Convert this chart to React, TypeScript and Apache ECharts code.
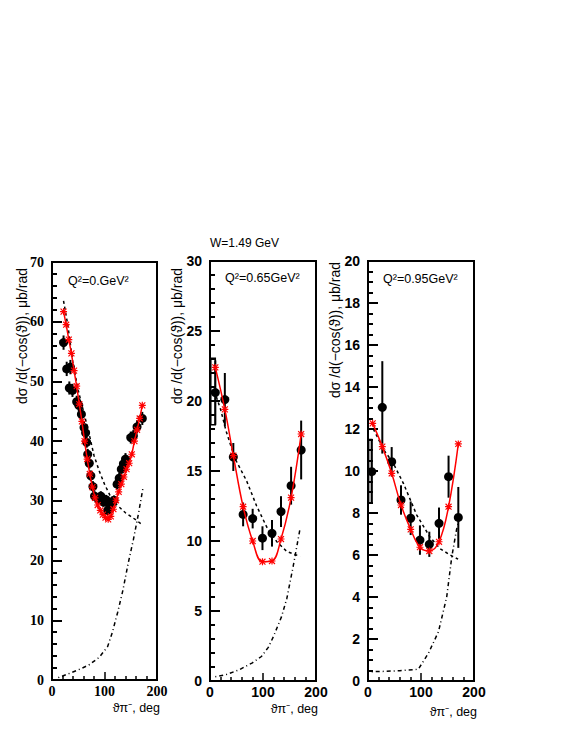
import React, { useEffect, useRef } from "react";
import * as echarts from "echarts";

// ---------- data ----------
// Panel titles / labels
const panelLabels = ["Q²=0.GeV²", "Q²=0.65GeV²", "Q²=0.95GeV²"];
const topTitle = "W=1.49 GeV";
const yTitle = "dσ /d(−cos(ϑ)), μb/rad";
const xTitle = "ϑπ⁻, deg";
const xTicks = [0, 100, 200];
const yMax = [70, 30, 20];
const yStep = [10, 5, 2];
const yMinorSplit = [5, 5, 4];

// measured points: [theta, value, error]
const p1Points = [
  [22, 56.5, 1.2], [28, 52.1, 1.2], [35, 52.4, 1.2], [33, 48.9, 1.1], [39, 48.5, 1.1],
  [47, 46.6, 1.0], [51, 46.0, 1.0], [56, 44.5, 1.0], [61, 42.3, 1.0], [64, 41.4, 1.0],
  [66, 39.8, 0.9], [68, 37.8, 0.9], [71, 36.3, 0.9], [74, 34.2, 0.9], [78, 32.4, 0.9],
  [81, 30.8, 0.8], [88, 30.3, 0.8], [93, 30.8, 0.8], [98, 29.8, 0.8], [103, 30.2, 0.8],
  [106, 28.4, 0.8], [110, 29.0, 0.8], [114, 29.6, 0.8], [118, 30.1, 0.8], [124, 32.8, 0.9],
  [128, 33.8, 0.9], [132, 35.3, 0.9], [136, 36.2, 0.9], [140, 37.0, 1.0], [150, 40.6, 1.0],
  [155, 40.9, 1.0], [162, 42.4, 1.1], [172, 43.8, 1.1],
];
const p2Points = [
  [10, 20.6, 2.3], [28, 20.1, 1.9], [44, 16.0, 1.0], [62.5, 11.9, 0.85], [80.5, 11.6, 0.7],
  [99, 10.2, 0.85], [117, 10.55, 0.95], [134, 12.1, 1.1], [153, 13.95, 1.35], [172, 16.5, 2.1],
];
const p3Points = [
  [7, 9.97, 1.5], [27, 13.03, 2.2], [44.7, 10.44, 0.7], [62.3, 8.62, 0.7], [80.5, 7.75, 0.8],
  [98, 6.71, 0.7], [115.7, 6.51, 0.6], [134, 7.51, 0.75], [152, 9.73, 1.0], [170.4, 7.79, 1.45],
];

// systematic boxes at the first point: [thetaFrom, thetaTo, low, high]
const p2Box = [1.5, 10, 18.3, 23.05];
const p3Box = [1.2, 7, 8.46, 11.5];

// red model curves (with asterisk markers)
const p1Red = [
  [22, 61.7], [27, 59.5], [32, 57.0], [37, 54.7], [42, 51.8], [47, 49.2], [52, 46.2],
  [57, 43.3], [62, 40.0], [67, 37.0], [72, 34.5], [77, 32.3], [82, 30.5], [87, 29.3],
  [92, 28.4], [97, 27.7], [102, 27.2], [107, 26.9], [112, 27.4], [117, 28.6], [122, 30.1],
  [127, 31.5], [132, 32.8], [137, 34.0], [142, 35.3], [147, 36.3], [152, 37.8], [157, 40.0],
  [162, 41.9], [167, 43.8], [172, 46.0],
];
const p2Red = [
  [10, 22.4], [28, 19.4], [44, 16.1], [62.5, 12.45], [80.5, 10.0], [99, 8.52],
  [117, 8.57], [134, 10.14], [153, 13.1], [172, 17.64],
];
const p3Red = [
  [8.8, 12.27], [27, 11.16], [44.7, 9.89], [62.3, 8.38], [80.5, 7.22], [98, 6.37],
  [115.7, 6.19], [134, 6.63], [152, 8.3], [170.4, 11.29],
];

// dashed curves
const p1Dash = [
  [22, 63.5], [30, 59.5], [40, 53.0], [50, 48.5], [60, 45.0], [70, 41.5], [80, 37.6],
  [90, 35.0], [100, 32.8], [110, 31.0], [120, 29.6], [130, 28.8], [140, 28.0], [150, 27.4],
  [160, 26.8], [172, 26.0],
];
const p2Dash = [
  [12, 20.3], [20, 19.4], [30, 17.9], [47, 15.9], [69, 14.3], [88, 12.5], [107, 11.0],
  [126, 9.95], [145, 9.25], [170, 8.9],
];
const p3Dash = [
  [10, 12.0], [20, 11.5], [30, 11.0], [47, 10.4], [67, 9.4], [92, 7.9], [117, 6.85],
  [136, 6.3], [155, 6.0], [170, 5.8],
];

// dash-dotted curves
const p1DashDot = [
  [12, 0.4], [30, 1.0], [50, 1.7], [70, 2.5], [90, 3.8], [106, 5.6], [115, 8.0],
  [125, 11.3], [135, 15.0], [145, 19.5], [155, 23.5], [165, 28.0], [173, 32.0],
];
const p2DashDot = [
  [10, 0.3], [30, 0.45], [55, 0.8], [80, 1.3], [97, 1.75], [110, 2.4], [120, 3.2],
  [135, 4.6], [145, 5.9], [157, 8.2], [170, 10.9],
];
const p3DashDot = [
  [7, 0.44], [30, 0.46], [60, 0.49], [95, 0.56], [114, 1.32], [133, 2.35], [148.5, 4.0],
  [158, 5.9], [167, 7.2], [172, 7.7],
];

// ---------- styling helpers ----------
const SERIF = '"Liberation Serif", "DejaVu Serif", serif';
const SANS = '"Liberation Sans", Arial, Helvetica, sans-serif';

const grids = [
  { left: 52, top: 262, width: 105, height: 418 },
  { left: 210, top: 261, width: 106, height: 420 },
  { left: 368, top: 261, width: 106, height: 420 },
];
const labelFonts = [SERIF, SANS, SANS];

const asterisk =
  "path://M-0.5,-3 L0.5,-3 L0.5,3 L-0.5,3 Z M-3,-0.5 L3,-0.5 L3,0.5 L-3,0.5 Z " +
  "M-2.9,-2.2 L-2.2,-2.9 L2.9,2.2 L2.2,2.9 Z M2.2,-2.9 L2.9,-2.2 L-2.2,2.9 L-2.9,2.2 Z";

function pointsSeries(idx: number, pts: number[][]) {
  return {
    type: "custom",
    xAxisIndex: idx,
    yAxisIndex: idx,
    z: 5,
    data: pts.map((p) => [p[0], p[1], p[1] - p[2], p[1] + p[2]]),
    encode: { x: 0, y: 1 },
    renderItem: (params: any, api: any) => {
      const x = api.value(0);
      const c = api.coord([x, api.value(1)]);
      const lo = api.coord([x, api.value(2)]);
      const hi = api.coord([x, api.value(3)]);
      return {
        type: "group",
        children: [
          {
            type: "line",
            shape: { x1: c[0], y1: lo[1], x2: c[0], y2: hi[1] },
            style: { stroke: "#000", lineWidth: 2 },
          },
          {
            type: "circle",
            shape: { cx: c[0], cy: c[1], r: 4.5 },
            style: { fill: "#000" },
          },
        ],
      };
    },
  };
}

function boxSeries(idx: number, box: number[]) {
  return {
    type: "custom",
    xAxisIndex: idx,
    yAxisIndex: idx,
    z: 4,
    data: [box],
    renderItem: (params: any, api: any) => {
      const a = api.coord([api.value(0), api.value(3)]);
      const b = api.coord([api.value(1), api.value(2)]);
      return {
        type: "rect",
        shape: { x: a[0], y: a[1], width: b[0] - a[0], height: b[1] - a[1] },
        style: { fill: "none", stroke: "#000", lineWidth: 1.5 },
      };
    },
  };
}

function lineSeries(idx: number, data: number[][], kind: "red" | "dash" | "dashdot", smooth = false) {
  if (kind === "red") {
    return {
      type: "line",
      xAxisIndex: idx,
      yAxisIndex: idx,
      data,
      smooth: smooth ? 0.4 : false,
      symbol: asterisk,
      symbolSize: 7,
      showSymbol: true,
      itemStyle: { color: "#ff0000" },
      lineStyle: { color: "#ff0000", width: 1.5 },
      z: 6,
    };
  }
  return {
    type: "line",
    xAxisIndex: idx,
    yAxisIndex: idx,
    data,
    smooth: false,
    showSymbol: false,
    symbol: "none",
    lineStyle: {
      color: "#000",
      width: 1.5,
      type: kind === "dash" ? [3, 3] : [1, 3, 4, 3],
    },
    z: 3,
  };
}

function makeX(i: number) {
  return {
    type: "value",
    gridIndex: i,
    min: xTicks[0],
    max: xTicks[xTicks.length - 1],
    interval: xTicks[1] - xTicks[0],
    axisLine: { show: true, onZero: false, lineStyle: { color: "#000", width: 2 } },
    axisTick: { show: true, inside: true, length: 8, lineStyle: { color: "#000", width: 1.5 } },
    minorTick: { show: true, splitNumber: 5, length: 4, lineStyle: { color: "#000", width: 1.5 } },
    splitLine: { show: false },
    axisLabel: {
      color: "#000",
      fontFamily: labelFonts[i],
      fontWeight: "bold",
      fontSize: 14,
      margin: 4,
    },
  };
}

function makeY(i: number) {
  return {
    type: "value",
    gridIndex: i,
    min: 0,
    max: yMax[i],
    interval: yStep[i],
    axisLine: { show: true, onZero: false, lineStyle: { color: "#000", width: 2 } },
    axisTick: { show: true, inside: true, length: 10, lineStyle: { color: "#000", width: 2 } },
    minorTick: {
      show: true,
      splitNumber: yMinorSplit[i],
      length: 5,
      lineStyle: { color: "#000", width: 2 },
    },
    splitLine: { show: false },
    axisLabel: {
      color: "#000",
      fontFamily: labelFonts[i],
      fontWeight: "bold",
      fontSize: 14,
      margin: 8,
    },
  };
}

export default function App() {
  const ref = useRef<HTMLDivElement>(null);
  useEffect(() => {
    document.body.style.margin = "0";
    const chart = echarts.init(ref.current!, undefined, { renderer: "svg" });

    const yTitlePos = [
      [22, 268],
      [177, 268],
      [335, 262],
    ];
    const xTitlePos = [
      [160, 708],
      [318, 709],
      [477, 712],
    ];
    const qPos = [
      [68, 281],
      [225, 278],
      [383, 279],
    ];

    const graphic: any[] = [];
    for (let i = 0; i < 3; i++) {
      graphic.push({
        type: "text",
        x: yTitlePos[i][0],
        y: yTitlePos[i][1],
        rotation: Math.PI / 2,
        style: {
          text: yTitle,
          fontFamily: SANS,
          fontSize: 14,
          fill: "#000",
          textAlign: "right",
          textVerticalAlign: "middle",
        },
      });
      graphic.push({
        type: "text",
        x: xTitlePos[i][0],
        y: xTitlePos[i][1],
        style: {
          text: xTitle,
          fontFamily: SANS,
          fontSize: 12.5,
          fill: "#000",
          textAlign: "right",
          textVerticalAlign: "middle",
        },
      });
      graphic.push({
        type: "text",
        x: qPos[i][0],
        y: qPos[i][1],
        style: {
          text: panelLabels[i],
          fontFamily: SANS,
          fontSize: 12.5,
          fill: "#000",
          textAlign: "left",
          textVerticalAlign: "middle",
        },
      });
    }
    graphic.push({
      type: "text",
      x: 210,
      y: 243,
      style: {
        text: topTitle,
        fontFamily: SANS,
        fontSize: 12,
        fill: "#000",
        textAlign: "left",
        textVerticalAlign: "middle",
      },
    });

    chart.setOption({
      animation: false,
      backgroundColor: "#fff",
      grid: grids.map((g) => ({
        ...g,
        show: true,
        borderColor: "#000",
        borderWidth: 2,
        backgroundColor: "transparent",
        containLabel: false,
      })),
      xAxis: [0, 1, 2].map(makeX),
      yAxis: [0, 1, 2].map(makeY),
      series: [
        lineSeries(0, p1DashDot, "dashdot"),
        lineSeries(0, p1Dash, "dash"),
        pointsSeries(0, p1Points),
        lineSeries(0, p1Red, "red"),
        lineSeries(1, p2DashDot, "dashdot"),
        lineSeries(1, p2Dash, "dash"),
        boxSeries(1, p2Box),
        pointsSeries(1, p2Points),
        lineSeries(1, p2Red, "red", true),
        lineSeries(2, p3DashDot, "dashdot"),
        lineSeries(2, p3Dash, "dash"),
        boxSeries(2, p3Box),
        pointsSeries(2, p3Points),
        lineSeries(2, p3Red, "red", true),
      ],
      graphic,
    });
    return () => chart.dispose();
  }, []);
  return <div ref={ref} style={{ width: 568, height: 734 }} />;
}
